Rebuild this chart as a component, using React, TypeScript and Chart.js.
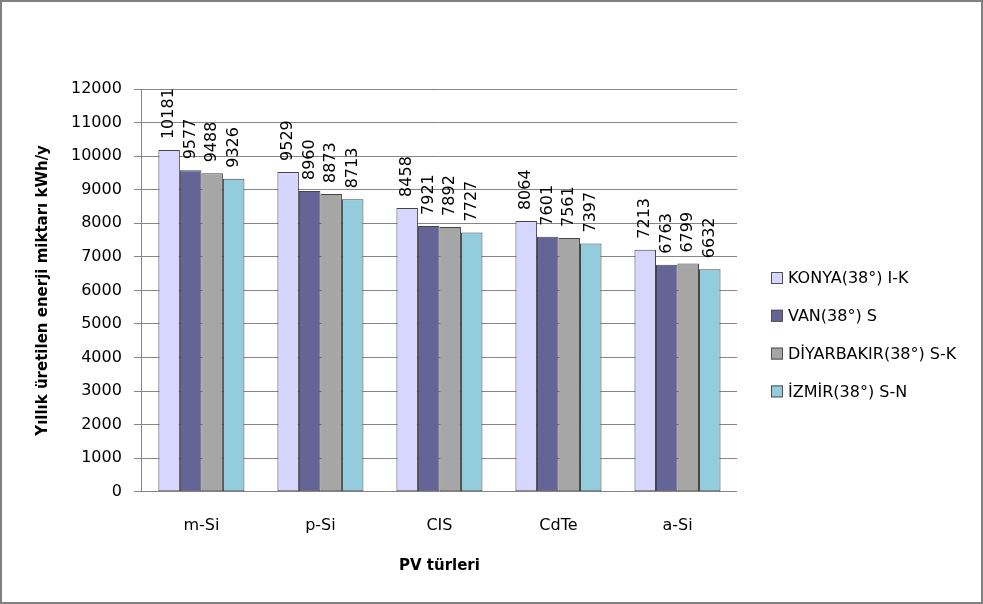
import React, { useEffect, useRef } from "react";
import { Chart, registerables } from "chart.js";

Chart.register(...registerables);

const categories = ["m-Si", "p-Si", "CIS", "CdTe", "a-Si"];
const seriesNames = ["KONYA(38°) I-K", "VAN(38°) S", "DİYARBAKIR(38°) S-K", "İZMİR(38°) S-N"];
const konya = [10181, 9529, 8458, 8064, 7213];
const van = [9577, 8960, 7921, 7601, 6763];
const diyarbakir = [9488, 8873, 7892, 7561, 6799];
const izmir = [9326, 8713, 7727, 7397, 6632];
const seriesColors = ["#D6D6FE", "#646496", "#A6A6A6", "#93CDDD"];
const yTitle = "Yıllık üretilen enerji miktarı kWh/y";
const xTitle = "PV türleri";

const FONT = "'DejaVu Sans', sans-serif";

const valueLabels = {
  id: "valueLabels",
  afterDatasetsDraw(chart: any) {
    const ctx = chart.ctx;
    ctx.save();
    ctx.font = `16px ${FONT}`;
    ctx.fillStyle = "#000";
    ctx.textAlign = "left";
    ctx.textBaseline = "middle";
    chart.data.datasets.forEach((ds: any, di: number) => {
      const meta = chart.getDatasetMeta(di);
      meta.data.forEach((el: any, i: number) => {
        ctx.save();
        ctx.translate(el.x, el.y - 11);
        ctx.rotate(-Math.PI / 2);
        ctx.fillText(String(ds.data[i]), 0, 0);
        ctx.restore();
      });
    });
    ctx.restore();
  },
};

const customLegend = {
  id: "customLegend",
  afterDraw(chart: any) {
    const ctx = chart.ctx;
    const x0 = chart.chartArea.right + 34;
    ctx.save();
    ctx.font = `16px ${FONT}`;
    ctx.textAlign = "left";
    ctx.textBaseline = "middle";
    chart.data.datasets.forEach((ds: any, i: number) => {
      const cy = 278 + i * 37.8;
      ctx.fillStyle = ds.backgroundColor;
      ctx.fillRect(x0, cy - 6, 12, 12);
      ctx.strokeStyle = "#505050";
      ctx.lineWidth = 1;
      ctx.strokeRect(x0 + 0.5, cy - 5.5, 11, 11);
      ctx.fillStyle = "#000";
      ctx.fillText(ds.label, x0 + 17, cy + 1);
    });
    ctx.restore();
  },
};

export default function App() {
  const ref = useRef<HTMLCanvasElement>(null);
  useEffect(() => {
    if (!ref.current) return;
    const values = [konya, van, diyarbakir, izmir];
    const chart = new Chart(ref.current, {
      type: "bar",
      data: {
        labels: categories,
        datasets: seriesNames.map((name, i) => ({
          label: name,
          data: values[i],
          backgroundColor: seriesColors[i],
          borderColor: "#454545",
          borderWidth: 1,
          borderSkipped: false,
          categoryPercentage: 0.723,
          barPercentage: 1.0,
        })),
      },
      options: {
        animation: false,
        responsive: false,
        devicePixelRatio: 1,
        layout: { padding: { left: 30, top: 89, right: 246, bottom: 25 } },
        plugins: {
          legend: { display: false },
          tooltip: { enabled: false },
        },
        scales: {
          x: {
            grid: { display: false, drawTicks: false },
            border: { display: false },
            ticks: { color: "#000", font: { family: FONT, size: 16 }, padding: 24 },
            title: {
              display: true,
              text: xTitle,
              color: "#000",
              font: { family: FONT, size: 15, weight: "bold" },
              padding: { top: -2, bottom: 4 },
            },
          },
          y: {
            min: 0,
            max: 12000,
            ticks: {
              stepSize: 1000,
              color: "#000",
              font: { family: FONT, size: 16 },
              padding: 12,
              callback: (v: any) => String(v),
            },
            grid: { color: "#868686", lineWidth: 1, tickLength: 8 },
            border: { color: "#868686", width: 1 },
            title: {
              display: true,
              text: yTitle,
              color: "#000",
              font: { family: FONT, size: 15, weight: "bold" },
              padding: { top: 4, bottom: 7 },
            },
          },
        },
      },
      plugins: [valueLabels, customLegend],
    });
    return () => chart.destroy();
  }, []);
  return (
    <div style={{ position: "fixed", left: 0, top: 0, width: 983, height: 604, background: "#fff" }}>
      <canvas ref={ref} width={983} height={604} style={{ position: "absolute", left: 0, top: 0, width: 983, height: 604 }} />
      <div
        style={{
          position: "absolute",
          left: 0,
          top: 0,
          width: 983,
          height: 604,
          boxSizing: "border-box",
          border: "2px solid #808080",
          pointerEvents: "none",
        }}
      />
    </div>
  );
}
